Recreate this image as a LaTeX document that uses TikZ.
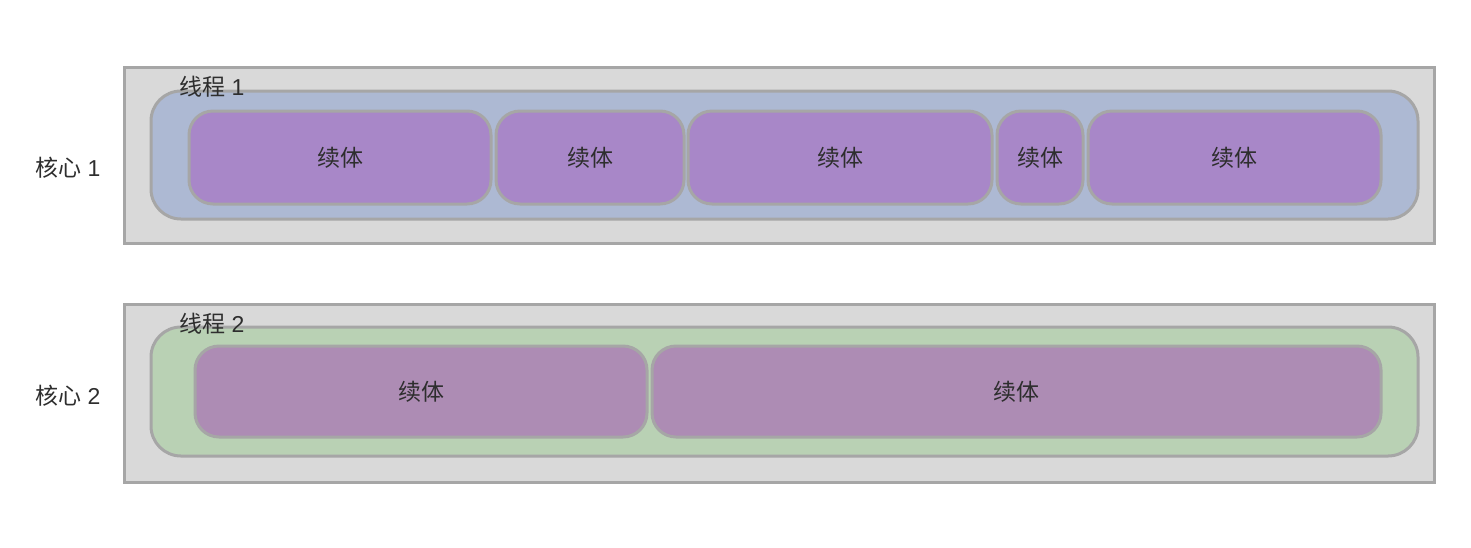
\documentclass[tikz,border=0pt]{standalone}
\usepackage{fontspec}
\setmainfont{Liberation Sans}
\newfontfamily\cjk{Noto Sans CJK SC}
\definecolor{outerfill}{HTML}{D9D9D9}
\definecolor{edgegray}{HTML}{A6A6A6}
\definecolor{bluefill}{HTML}{ADB9D3}
\definecolor{greenfill}{HTML}{B9D1B4}
\definecolor{purpA}{HTML}{A887C8}
\definecolor{purpB}{HTML}{AD8CB4}
\definecolor{txt}{HTML}{2E2E2E}
\tikzset{
  corebox/.style={draw=edgegray, fill=outerfill, line width=3pt, rectangle, inner sep=0pt},
  threadbox/.style={draw=edgegray, line width=3pt, rectangle, rounded corners=30pt, inner sep=0pt},
  contbox/.style={draw=edgegray, line width=3pt, rectangle, rounded corners=24pt, inner sep=0pt, text=txt, font=\fontsize{23}{27}\selectfont\cjk},
  lbl/.style={inner sep=0pt, anchor=west, text=txt, font=\fontsize{23}{27}\selectfont}
}
\newcommand{\xuti}{\raisebox{-2pt}{续体}}
\begin{document}
\begin{tikzpicture}[x=1pt,y=-1pt]
\useasboundingbox (0,0) rectangle (1471,547);
% row 1
\node[corebox, minimum width=1310pt, minimum height=176pt] (core1) at (779,155) {};
\node[threadbox, fill=bluefill, minimum width=1267pt, minimum height=128pt] (thr1) at (784.5,155) {};
\node[contbox, fill=purpA, minimum width=302pt, minimum height=93pt] (a1) at (340,157.5) {\xuti};
\node[contbox, fill=purpA, minimum width=188pt, minimum height=93pt] (a2) at (590,157.5) {\xuti};
\node[contbox, fill=purpA, minimum width=304pt, minimum height=93pt] (a3) at (840,157.5) {\xuti};
\node[contbox, fill=purpA, minimum width=86pt, minimum height=93pt] (a4) at (1040,157.5) {\xuti};
\node[contbox, fill=purpA, minimum width=293pt, minimum height=93pt] (a5) at (1234.5,157.5) {\xuti};
\node[lbl] (t1) at (179,87) {{\cjk 线程} 1};
\node[lbl] (k1) at (35,168) {{\cjk 核心} 1};
% row 2
\node[corebox, minimum width=1310pt, minimum height=178pt] (core2) at (779,393) {};
\node[threadbox, fill=greenfill, minimum width=1267pt, minimum height=129pt] (thr2) at (784.5,391.5) {};
\node[contbox, fill=purpB, minimum width=452pt, minimum height=91pt] (b1) at (421,391.5) {\xuti};
\node[contbox, fill=purpB, minimum width=729pt, minimum height=91pt] (b2) at (1016.5,391.5) {\xuti};
\node[lbl] (t2) at (179,324) {{\cjk 线程} 2};
\node[lbl] (k2) at (35,396) {{\cjk 核心} 2};
\end{tikzpicture}
\end{document}
